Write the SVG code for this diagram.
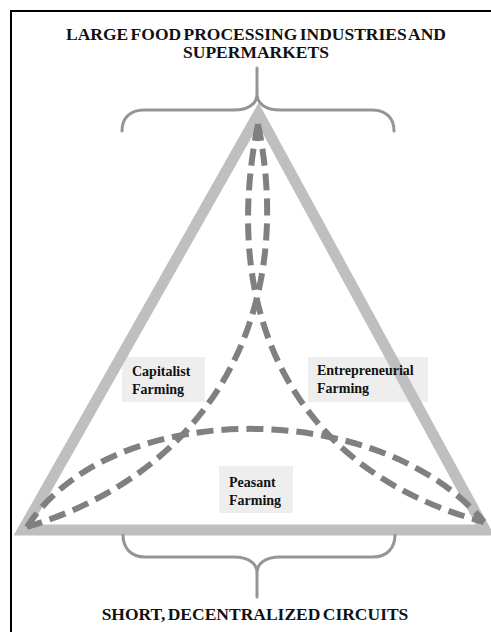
<svg xmlns="http://www.w3.org/2000/svg" width="491" height="632" viewBox="0 0 491 632">
  <style>
    .frame { fill: none; stroke: #000; stroke-width: 2; }
    .title { font-family: "Liberation Serif", "Times New Roman", serif; font-weight: bold; font-size: 17.5px; fill: #111; }
    .label { font-family: "Liberation Serif", "Times New Roman", serif; font-weight: bold; font-size: 14px; fill: #111; }
    .box { fill: #eeeeee; }
    .brace { fill: none; stroke: #959595; stroke-width: 3; stroke-linecap: round; }
    .edge { fill: none; stroke: #bfbfbf; stroke-width: 11; stroke-linejoin: miter; }
    .link { fill: none; stroke: #808080; stroke-width: 6; stroke-dasharray: 17 8; }
  </style>

  <rect class="frame" x="11" y="11" width="500" height="640"/>

  <!-- top heading -->
  <g id="title-top">
    <text class="title" x="256" y="39.5" text-anchor="middle" word-spacing="-2">LARGE FOOD PROCESSING INDUSTRIES AND</text>
    <text class="title" x="256" y="58" text-anchor="middle">SUPERMARKETS</text>
  </g>

  <!-- brace under the top heading -->
  <g id="brace-top">
    <path class="brace" d="M122,131 C122,118 130,110 144,110 L234,110 C248,110 257,104 257,94 L257,68 M257,94 C257,104 266,110 280,110 L372,110 C386,110 394,118 394,131"/>
  </g>

  <!-- label boxes sit under the triangle outline -->
  <g id="capitalist-box"><rect class="box" x="122" y="357" width="83" height="45"/></g>
  <g id="entrepreneurial-box"><rect class="box" x="308" y="357" width="120" height="45"/></g>
  <g id="peasant-box"><rect class="box" x="219" y="466" width="74" height="47"/></g>

  <!-- triangle outline -->
  <g id="triangle">
    <polygon class="edge" points="258.5,114 23,530 485,530"/>
  </g>

  <!-- dashed curves linking the corners -->
  <g id="connectors">
    <path id="apex-to-right" class="link" d="M258,124 C220,310 290,470 484,522"/>
    <path id="apex-to-left" class="link" d="M258,124 C296,310 215,470 27,527"/>
    <path id="left-to-right" class="link" d="M27,527 C110,397 380,397 484,522"/>
  </g>

  <g id="capitalist">
    <text class="label" x="132" y="376">Capitalist</text>
    <text class="label" x="132" y="394">Farming</text>
  </g>
  <g id="entrepreneurial">
    <text class="label" x="317" y="375">Entrepreneurial</text>
    <text class="label" x="317" y="393">Farming</text>
  </g>
  <g id="peasant">
    <text class="label" x="229" y="487">Peasant</text>
    <text class="label" x="229" y="505">Farming</text>
  </g>

  <!-- brace above the bottom heading -->
  <g id="brace-bottom">
    <path class="brace" d="M123,535 C123,548 131,557 145,557 L234,557 C248,557 257,563 257,573 L257,597 M257,573 C257,563 266,557 280,557 L373,557 C387,557 395,548 395,535"/>
  </g>

  <g id="title-bottom">
    <text class="title" x="255" y="620" text-anchor="middle" word-spacing="-2">SHORT, DECENTRALIZED CIRCUITS</text>
  </g>
</svg>
